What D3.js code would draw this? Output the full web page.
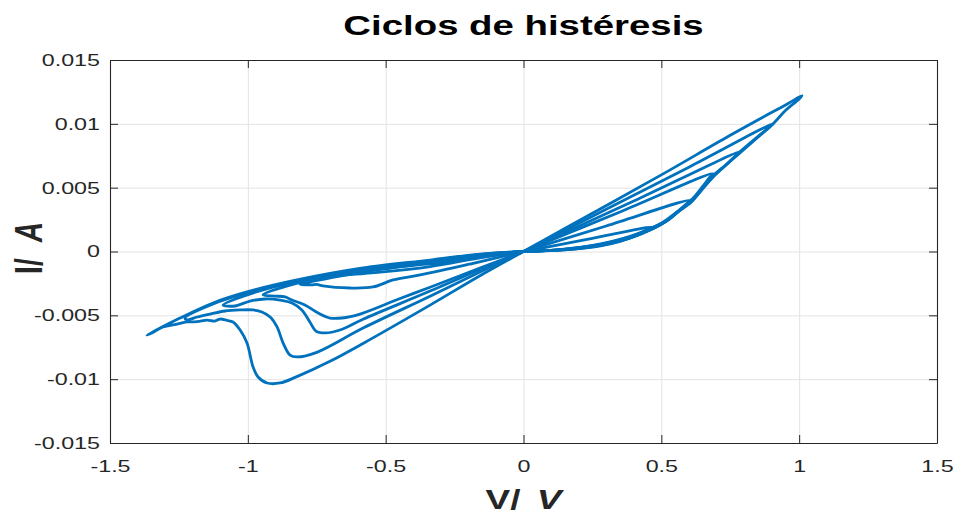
<!DOCTYPE html>
<html>
<head>
<meta charset="utf-8">
<script src="https://cdn.jsdelivr.net/npm/d3@7"></script>
<style>
  body { margin: 0; background: #fff; }
</style>
</head>
<body>
<div id="chart"></div>
<script>
// Ejes
const xTicks = [-1.5, -1, -0.5, 0, 0.5, 1, 1.5];
const yTicks = [-0.015, -0.01, -0.005, 0, 0.005, 0.01, 0.015];

// Ciclos [V, I]
const cycle1 = [
  [0, 0], [0.25, 0.003], [0.5, 0.006], [0.75, 0.0091], [0.96, 0.0116], [1.01, 0.0122],
  [1.0, 0.01195], [0.952, 0.01108], [0.905, 0.00999], [0.847, 0.00889], [0.785, 0.00772],
  [0.735, 0.00678], [0.687, 0.00584], [0.64, 0.00466], [0.604, 0.0038], [0.56, 0.0031],
  [0.513, 0.0023], [0.459, 0.00168], [0.386, 0.00106], [0.278, 0.00051], [0.132, 0.00012], [0, 0],
  [-0.158, -0.0002], [-0.339, -0.00067], [-0.582, -0.00129], [-0.822, -0.00223], [-1.003, -0.00317],
  [-1.126, -0.00403], [-1.246, -0.00521], [-1.366, -0.00655],
  [-1.35, -0.0064], [-1.308, -0.00591], [-1.26, -0.0057], [-1.221, -0.00552], [-1.184, -0.0055],
  [-1.148, -0.00537], [-1.12, -0.00545], [-1.101, -0.00529], [-1.075, -0.0054], [-1.054, -0.00552],
  [-1.028, -0.00615], [-1.003, -0.00717], [-0.981, -0.00905], [-0.963, -0.00983], [-0.93, -0.0103],
  [-0.883, -0.0103], [-0.822, -0.0098], [-0.702, -0.0086], [-0.582, -0.0072], [-0.339, -0.0042],
  [-0.158, -0.0019], [0, 0]
];
const cycle2 = [
  [0, 0], [0.3, 0.0033], [0.6, 0.0066], [0.905, 0.0100],
  [0.89, 0.0097], [0.85, 0.0090], [0.79, 0.0079], [0.74, 0.0069], [0.69, 0.0059], [0.645, 0.0048],
  [0.61, 0.0039], [0.565, 0.0032], [0.52, 0.0024], [0.46, 0.0017], [0.38, 0.0010], [0.27, 0.00045],
  [0.13, 0.0001], [0, 0],
  [-0.158, -0.00024], [-0.339, -0.00072], [-0.582, -0.00136], [-0.822, -0.0023], [-1.003, -0.00325],
  [-1.126, -0.0041], [-1.228, -0.0052],
  [-1.22, -0.00535], [-1.184, -0.00513], [-1.137, -0.0049], [-1.083, -0.00466], [-1.028, -0.00458],
  [-0.981, -0.00458], [-0.949, -0.00474], [-0.919, -0.00513], [-0.894, -0.00591], [-0.872, -0.00717],
  [-0.847, -0.00811], [-0.822, -0.00826], [-0.75, -0.0079], [-0.582, -0.0060], [-0.339, -0.0035],
  [-0.158, -0.0016], [0, 0]
];
const cycle3 = [
  [0, 0], [0.4, 0.00395], [0.785, 0.0078],
  [0.77, 0.0075], [0.735, 0.0068], [0.69, 0.0060], [0.65, 0.0050], [0.615, 0.0041], [0.575, 0.0034],
  [0.53, 0.0026], [0.47, 0.0019], [0.39, 0.0012], [0.28, 0.0006], [0.13, 0.00015], [0, 0],
  [-0.158, -0.00028], [-0.339, -0.00076], [-0.582, -0.0014], [-0.822, -0.00238], [-0.96, -0.0031],
  [-1.09, -0.0042],
  [-1.047, -0.00427], [-0.992, -0.00388], [-0.938, -0.00372], [-0.883, -0.0038], [-0.84, -0.00403],
  [-0.804, -0.00458], [-0.775, -0.00552], [-0.753, -0.00623], [-0.72, -0.00638], [-0.666, -0.00615],
  [-0.582, -0.0053], [-0.339, -0.0031], [-0.158, -0.0014], [0, 0]
];
const cycle4 = [
  [0, 0], [0.35, 0.0031], [0.687, 0.0061],
  [0.675, 0.0058], [0.65, 0.0051], [0.62, 0.0043], [0.585, 0.0036], [0.545, 0.0029], [0.5, 0.0022],
  [0.45, 0.0017], [0.38, 0.0011], [0.27, 0.0005], [0.13, 0.00012], [0, 0],
  [-0.158, -0.00032], [-0.339, -0.00082], [-0.582, -0.00146], [-0.80, -0.00236], [-0.945, -0.0034],
  [-0.901, -0.00349], [-0.865, -0.00356], [-0.84, -0.0038], [-0.793, -0.00419], [-0.745, -0.00482],
  [-0.702, -0.00521], [-0.658, -0.00521], [-0.593, -0.0049], [-0.45, -0.0037], [-0.339, -0.0028],
  [-0.158, -0.0013], [0, 0]
];
const cycle5 = [
  [0, 0], [0.3, 0.002], [0.604, 0.0040],
  [0.59, 0.0037], [0.56, 0.0031], [0.52, 0.0024], [0.47, 0.0018], [0.39, 0.0011], [0.28, 0.00055],
  [0.13, 0.00013], [0, 0],
  [-0.158, -0.00036], [-0.339, -0.00088], [-0.582, -0.0016], [-0.80, -0.0025],
  [-0.811, -0.00255], [-0.77, -0.00262], [-0.75, -0.00258], [-0.727, -0.0027], [-0.63, -0.00286],
  [-0.546, -0.00278], [-0.473, -0.00223], [-0.375, -0.00184], [-0.194, -0.00098], [0, 0]
];
const cycle6 = [
  [0, 0], [0.23, 0.00094], [0.466, 0.0019],
  [0.44, 0.0016], [0.4, 0.0012], [0.35, 0.0008], [0.28, 0.00045], [0.15, 0.00012], [0, 0],
  [-0.158, -0.0004], [-0.339, -0.00095], [-0.5, -0.0013], [-0.68, -0.0018],
  [-0.666, -0.00184], [-0.51, -0.0016], [-0.339, -0.00118], [-0.158, -0.0005], [0, 0]
];

const cycles = [cycle1, cycle2, cycle3, cycle4, cycle5, cycle6];

const width = 955;
const height = 517;
const marginLeft = 110;
const marginRight = 18;
const marginTop = 60;
const marginBottom = 74;
const stretch = 1.37; // el texto original esta ensanchado horizontalmente

const fmt = d3.formatLocale({decimal: ".", thousands: ",", grouping: [3], currency: ["", ""], minus: "-"}).format("~g");

const x = d3.scaleLinear([-1.5, 1.5], [marginLeft, width - marginRight]);
const y = d3.scaleLinear([-0.015, 0.015], [height - marginBottom, marginTop]);

const svg = d3.create("svg")
    .attr("width", width)
    .attr("height", height)
    .attr("viewBox", [0, 0, width, height])
    .style("font-family", "'Liberation Sans', Arial, sans-serif");

// Rejilla
svg.append("g")
    .attr("transform", `translate(0,${height - marginBottom})`)
    .call(d3.axisBottom(x).tickValues(xTicks).tickSize(-(height - marginTop - marginBottom)).tickFormat(""))
    .call(g => g.select(".domain").remove())
    .call(g => g.selectAll(".tick line").attr("stroke", "#e3e3e3"));
svg.append("g")
    .attr("transform", `translate(${marginLeft},0)`)
    .call(d3.axisLeft(y).tickValues(yTicks).tickSize(-(width - marginLeft - marginRight)).tickFormat(""))
    .call(g => g.select(".domain").remove())
    .call(g => g.selectAll(".tick line").attr("stroke", "#e3e3e3"));

// Curvas
const line = d3.line()
    .curve(d3.curveCatmullRom.alpha(0.5))
    .x(d => x(d[0]))
    .y(d => y(d[1]));

svg.append("g")
    .attr("fill", "none")
    .attr("stroke", "#0072BD")
    .attr("stroke-width", 2.8)
    .attr("stroke-linejoin", "round")
    .attr("stroke-linecap", "round")
  .selectAll("path")
  .data(cycles)
  .join("path")
    .attr("d", line);

// Ejes con marcas hacia dentro
const styleAxis = g => {
  g.select(".domain").attr("stroke", "#262626").attr("stroke-width", 1.1);
  g.selectAll(".tick line").attr("stroke", "#262626");
  g.selectAll(".tick text").attr("fill", "#262626").style("font-size", "17px").attr("font-family", null);
};

svg.append("g")
    .attr("transform", `translate(0,${height - marginBottom})`)
    .call(d3.axisBottom(x).tickValues(xTicks).tickSize(-8).tickSizeOuter(0).tickPadding(17).tickFormat(fmt))
    .call(styleAxis)
    .call(g => g.selectAll(".tick text").attr("transform", `scale(${stretch},1)`));

svg.append("g")
    .attr("transform", `translate(${marginLeft},0)`)
    .call(d3.axisLeft(y).tickValues(yTicks).tickSize(-8).tickSizeOuter(0).tickPadding(10).tickFormat(fmt))
    .call(styleAxis)
    .call(g => g.selectAll(".tick text")
      .attr("x", -10 / stretch)
      .attr("transform", `scale(${stretch},1)`));

svg.append("g")
    .attr("transform", `translate(0,${marginTop})`)
    .call(d3.axisTop(x).tickValues(xTicks).tickSize(-8).tickSizeOuter(0).tickFormat(""))
    .call(styleAxis);

svg.append("g")
    .attr("transform", `translate(${width - marginRight},0)`)
    .call(d3.axisRight(y).tickValues(yTicks).tickSize(-8).tickSizeOuter(0).tickFormat(""))
    .call(styleAxis);

// Titulo
svg.append("text")
    .attr("transform", `translate(${(marginLeft + width - marginRight) / 2},35) scale(${stretch},1)`)
    .attr("text-anchor", "middle")
    .style("font-size", "28px")
    .style("font-weight", "bold")
    .attr("fill", "#000")
    .text("Ciclos de histéresis");

// Etiqueta X
const xl = svg.append("text")
    .attr("transform", `translate(${(marginLeft + width - marginRight) / 2},509) scale(${stretch},1)`)
    .attr("text-anchor", "middle")
    .style("font-size", "27px")
    .style("font-weight", "bold")
    .attr("fill", "#262626");
xl.append("tspan").text("V/");
xl.append("tspan").attr("dx", 12).style("font-style", "italic").text("V");

// Etiqueta Y
const yl = svg.append("text")
    .attr("transform", `translate(42,248) scale(${stretch},1) rotate(-90)`)
    .attr("text-anchor", "middle")
    .style("font-size", "28px")
    .style("font-weight", "bold")
    .attr("fill", "#262626");
yl.append("tspan").text("I/");
yl.append("tspan").attr("dx", 16).style("font-style", "italic").text("A");

document.getElementById("chart").appendChild(svg.node());
</script>
</body>
</html>
